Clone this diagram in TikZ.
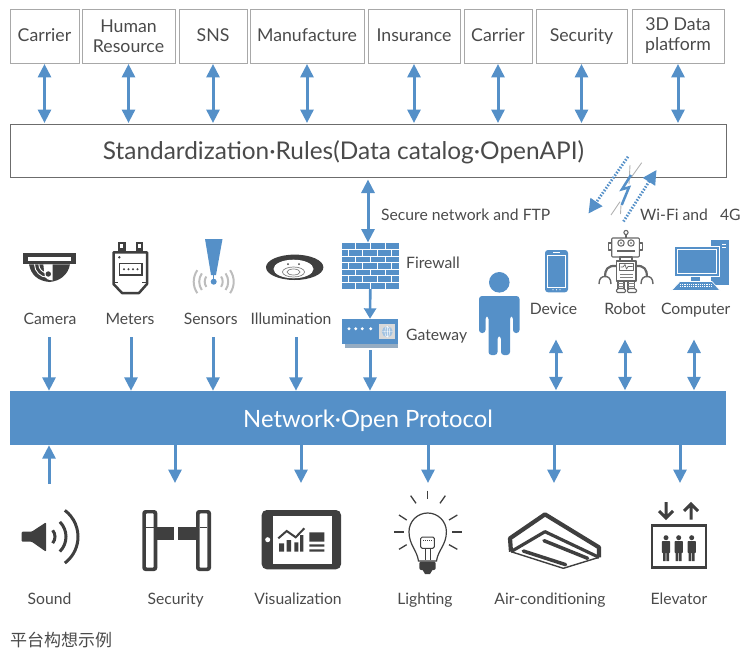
\documentclass[tikz,border=0pt]{standalone}
\usepackage{fontspec}
\setmainfont{Lato}
\newfontfamily\cjkfont{Noto Sans CJK SC}
\usetikzlibrary{arrows.meta,calc}
\definecolor{flow}{HTML}{5590C8}
\definecolor{ink}{HTML}{3F3F3F}
\definecolor{txt}{HTML}{4A4A4A}
\definecolor{edge}{HTML}{A8A8A8}
\definecolor{wave}{HTML}{BDBDBD}
\tikzset{
  topbox/.style={draw=edge,line width=0.9pt,minimum height=54pt,inner sep=0pt,align=center,text=txt,font=\fontsize{17.7}{20}\selectfont},
  oneline/.style={text height=13.2pt,text depth=2.8pt},
  lbl/.style={text=txt,inner sep=0pt,anchor=base,font=\fontsize{15.7}{18}\selectfont},
  lblw/.style={lbl,anchor=base west},
  both/.style={draw=flow,line width=3pt,{Triangle[width=13pt,length=13.5pt]}-{Triangle[width=13pt,length=13.5pt]},shorten >=.5pt,shorten <=.5pt},
  one/.style={draw=flow,line width=3pt,-{Triangle[width=13pt,length=13.5pt]}},
  shortar/.style={draw=flow,line width=2.6pt,-{Triangle[width=12pt,length=10.5pt]}},
  dotar/.style={draw=flow,line width=2.8pt,dash pattern=on 1.5pt off 1.6pt,-{Triangle[width=14pt,length=14pt]}},
  rob/.style={draw=gray!80!black,line width=1.1pt,fill=white,line join=round},
  fb/.style={fill=flow,draw=none},
}
\begin{document}
\begin{tikzpicture}[x=1pt,y=-1pt]
\useasboundingbox (0,0) rectangle (750,656);
% top boxes
\node[topbox,oneline,minimum width=69pt] (t1) at (44.5,36) {Carrier};
\node[topbox,minimum width=93pt] (t2) at (128.5,36) {Human\\Resource};
\node[topbox,oneline,minimum width=68pt] (t3) at (213,36) {SNS};
\node[topbox,oneline,minimum width=114pt] (t4) at (307,36) {Manufacture};
\node[topbox,oneline,minimum width=92pt] (t5) at (414,36) {Insurance};
\node[topbox,oneline,minimum width=68pt] (t6) at (498,36) {Carrier};
\node[topbox,oneline,minimum width=91pt] (t7) at (581.5,36) {Security};
\node[topbox,minimum width=92pt] (t8) at (678,36) {3D Data\\platform};
% main bars
\node[draw=gray!85!black,line width=1pt,minimum width=716pt,minimum height=53pt,inner sep=0pt,text=txt,text height=22pt,text depth=4.5pt,font=\fontsize{24.4}{28}\selectfont] (std) at (368,150.5) {\hspace{-49pt}Standardization·Rules(Data catalog·OpenAPI)};
\node[fill=flow,minimum width=716pt,minimum height=54pt,inner sep=0pt,text=white,text height=23.5pt,text depth=4.5pt,font=\fontsize{23.8}{28}\selectfont] (net) at (368,418) {Network·Open Protocol};
\foreach \n in {t1,t2,t3,t4,t5,t6,t7,t8} \draw[both] (\n.south) -- (\n.south |- std.north);
% firewall
\node[fb,minimum width=57pt,minimum height=46pt,inner sep=0pt] (fw) at (370.3,266) {};
\foreach \y in {249.5,256,262.5,269,275.5,282} \draw[white,line width=.9pt] (341.8,\y) -- (398.8,\y);
\foreach \x in {355.7,370,385} \foreach \y in {243,256,269,282} \draw[white,line width=.9pt] (\x,\y) -- ++(0,6.5);
\foreach \x in {348.3,362.7,377.3,391.7} \foreach \y in {249.5,262.5,275.5} \draw[white,line width=.9pt] (\x,\y) -- ++(0,6.5);
% gateway
\fill[flow!55!gray!70] (345,344) rectangle (398.3,348);
\node[fb,minimum width=56.6pt,minimum height=25pt,inner sep=0pt] (gw) at (370,331.5) {};
\foreach \x in {349,355.7,362.3,370.7} \fill[white] (\x,328.7) circle (1.6);
\fill[gray!30] (379.3,324) rectangle (395,339);
\fill[flow!55!white] (387.3,331.7) circle (5.5);
\draw[white,line width=.4pt] (381.8,331.7) -- (392.8,331.7) (387.3,326.2) -- (387.3,337.2) (387.3,331.7) ellipse (2.5 and 5.5);
% arrows on centre stack
\coordinate (fwtop) at (368,179);
\coordinate (fwin) at (368,243);
\draw[both] (fwtop) -- (fwin);
\draw[shortar] (fw.south) -- (gw.north);
\coordinate (gwout) at (370,350);
\draw[one] (gwout) -- (gwout |- net.north);
% labels
\node[lbl] (lcam) at (50,324) {Camera};
\node[lbl] (lmet) at (130,324) {Meters};
\node[lbl] (lsen) at (210.7,324) {Sensors};
\node[lbl] (lill) at (291,324) {Illumination};
\node[lblw] (lfw) at (406,268) {Firewall};
\node[lblw] (lgw) at (406,340) {Gateway};
\node[lbl] (ldev) at (553.5,314) {Device};
\node[lbl] (lrob) at (625,314) {Robot};
\node[lbl] (lcom) at (695.7,314) {Computer};
\node[lblw] (lsec) at (381,220) {Secure network and FTP};
\node[lblw] (lwifi) at (640,220) {Wi-Fi and\hspace{12pt}4G};
\node[lbl] (bs) at (49.5,604) {Sound};
\node[lbl] (bt) at (175.7,604) {Security};
\node[lbl] (bv) at (298,604) {Visualization};
\node[lbl] (bl) at (425,604) {Lighting};
\node[lbl] (ba) at (550,604) {Air-conditioning};
\node[lbl] (be) at (679,604) {Elevator};
\node[anchor=west,inner sep=0pt,text=txt,font=\cjkfont\fontsize{17}{20}\selectfont] (cap) at (10,640) {平台构想示例};
% sensor row arrows
\foreach \x/\n in {49/a,131/b,213/c,296/d} {\coordinate (s\n) at (\x,337); \draw[one] (s\n) -- (s\n |- net.north);}
\foreach \x/\n in {556/e,625/f,694/g} {\coordinate (s\n) at (\x,339); \draw[both] (s\n) -- (s\n |- net.north);}
% bottom arrows
\coordinate (b1) at (49,484);
\draw[one] (b1) -- (b1 |- net.south);
\foreach \x/\n in {175/2,301/3,428/4,554/5,680/6} {\coordinate (b\n) at (\x,483); \draw[one] (b\n |- net.south) -- (b\n);}
% camera
\fill[ink] (23.3,253.3) rectangle (75.7,264.3);
\fill[white] (27.7,257.3) rectangle (70.5,260.7);
\fill[ink] (29,264.3) .. controls (31,275) and (38,281) .. (49.5,282) .. controls (60,281) and (68,275) .. (70,264.3) -- cycle;
\fill[white] (43.3,264.3) -- (52.7,264.3) -- (52.7,280.5) -- (48,279.5) -- (45,277) -- (44,270) -- cycle;
\draw[white,line width=.9pt] (34.5,264.3) arc[start angle=180,end angle=90,radius=13];
\draw[white,line width=.9pt] (38.8,264.3) arc[start angle=180,end angle=90,radius=8.7];
\fill[ink] (48.3,274) circle (2.7);
% meters
\fill[ink] (117.7,241.7) rectangle (125.7,251);
\fill[white] (120,243.5) rectangle (123.3,248);
\fill[ink] (135.7,241.7) rectangle (143.3,251);
\fill[white] (138,243.5) rectangle (141,248);
\draw[ink,line width=2.5pt,fill=white,line join=round] (113.5,252.3) -- (147,252.3) -- (147,284) -- (139,293) -- (122,293) -- (113.5,284) -- cycle;
\draw[ink,line width=1.3pt] (114,282.5) -- (118,282.5) (146,282.5) -- (142,282.5);
\fill[ink] (119.3,257.3) circle (1.3);
\draw[ink,line width=1.4pt] (119.5,263.5) rectangle (142,275);
\foreach \x in {124,128.5,133,137.5} \fill[ink] (\x,269.2) circle (1.2);
% sensor
\foreach \r in {9,14.5,20} {
  \draw[wave,line width=2pt] (213.7,281.7) ++(145:\r) arc[start angle=145,end angle=215,radius=\r];
  \draw[wave,line width=2pt] (213.7,281.7) ++(-35:\r) arc[start angle=-35,end angle=35,radius=\r];
}
\fill[flow] (205,239) -- (222.5,239) -- (216,275) -- (211,275) -- cycle;
\draw[flow,line width=1.2pt] (213.7,275) -- (213.7,282);
\fill[flow] (213.7,281.7) circle (3);
% illumination
\fill[ink] (294.7,267.3) ellipse (28.7 and 12.7);
\fill[white] (293.5,269) ellipse (20 and 9.3);
\draw[gray,line width=.7pt] (293.5,272) ellipse (11 and 5) (293.5,272) ellipse (6.5 and 3);
\fill[ink] (288,264) circle (1) (299,264) circle (1);
% person
\fill[flow] (499.3,282.3) circle (10.3);
\fill[flow,rounded corners=3pt] (479,333) -- (479,296) -- (519.5,296) -- (519.5,333) -- (513,333) -- (513,316) -- (510,316) -- (510,355) -- (501,355) -- (501,336) -- (497.5,336) -- (497.5,355) -- (488.5,355) -- (488.5,316) -- (485.5,316) -- (485.5,333) -- cycle;
% device
\fill[flow,rounded corners=3pt] (545,250) rectangle (568,292.3);
\draw[white,line width=.7pt] (547.5,255.5) rectangle (565.5,287);
\draw[white,line width=1pt] (553,252.8) -- (560,252.8);
\foreach \x in {553,556.5,560} \fill[white] (\x,289.7) circle (.6);
% computer
\fill[flow] (711,240) rectangle (729,284.5);
\draw[white,line width=.9pt] (722,244) -- (725.5,244) (722,247) -- (725.5,247);
\fill[flow,draw=white,line width=.8pt] (674,246.7) rectangle (719.3,276.7);
\draw[white,line width=.7pt] (677,249.5) rectangle (716.5,273.5);
\fill[flow] (691,276.7) rectangle (700,281);
\fill[flow,draw=white,line width=.6pt] (680,281.5) -- (712,281.5) -- (720,290.5) -- (671.5,290.5) -- cycle;
\foreach \y in {284,286.5} \draw[white,line width=1pt,dash pattern=on 1.2pt off 1pt] (680,\y) -- (712,\y);
% robot
\draw[rob] (626,232.7) -- (626,238.5);
\draw[rob] (626,232.5) circle (2.1);
\draw[rob] (608.5,243) rectangle (612,250) (639,243) rectangle (642.5,250);
\draw[rob,rounded corners=1pt] (611.7,238) rectangle (639.3,257);
\draw[rob] (621,243) circle (3.2) (631,243) circle (3.2);
\fill[gray] (621,243) circle (1.1) (631,243) circle (1.1);
\draw[rob] (617,251) -- (635,251);
\draw[rob] (620,257) rectangle (632,261);
\draw[rob,line width=2.2pt,fill=none] (617,266) .. controls (607,265) and (605,270) .. (605,277);
\draw[rob,line width=2.2pt,fill=none] (635,266) .. controls (645,265) and (647,270) .. (647,277);
\draw[rob,fill=none,line width=1.4pt] (599,284) .. controls (599,278) and (602,276.5) .. (605,276.5) .. controls (608,276.5) and (611,278) .. (611,284);
\draw[rob,fill=none,line width=1.4pt] (641,284) .. controls (641,278) and (644,276.5) .. (647,276.5) .. controls (650,276.5) and (653,278) .. (653,284);
\draw[rob] (616.7,261) rectangle (636,281);
\draw[rob] (619.5,263.5) rectangle (633.5,270.5);
\draw[rob,fill=none,line width=.7pt] (620.5,267) -- (623,267) -- (625,264.5) -- (626.5,269) -- (628,266.5) -- (632.5,266.5);
\draw[gray,line width=.8pt] (620,274) -- (633,274) (620,277.5) -- (633,277.5);
\draw[rob] (618,281) rectangle (624,289);
\draw[rob] (628,281) rectangle (634.5,289);
\draw[gray,line width=.7pt] (618,283.5) -- (624,283.5) (618,286) -- (624,286) (628,283.5) -- (634.5,283.5) (628,286) -- (634.5,286);
\draw[rob,rounded corners=1.5pt] (616,292.5) -- (617,288.5) -- (625,288.5) -- (626,292.5) -- cycle;
\draw[rob,rounded corners=1.5pt] (627,292.5) -- (628,288.5) -- (636,288.5) -- (637,292.5) -- cycle;
% wireless
\coordinate (w1a) at (628,156.7);
\coordinate (w1b) at (588.5,213.5);
\coordinate (w2a) at (623.5,221.5);
\coordinate (w2b) at (656.5,170);
\draw[dotar] (w1a) -- (w1b);
\draw[dotar] (w2a) -- (w2b);
\draw[gray!60,line width=.9pt] (641.7,162.7) -- (631.7,176.7) (630,165) -- (629,184) (620,201.7) -- (611,215) (621,205) -- (620.5,214);
\draw[flow,line width=2.5pt] (631,175) -- (622,189.3) -- (629,187.3) -- (621.7,205);
% sound
\fill[ink,rounded corners=1pt] (21.7,531.7) -- (31.7,531.7) -- (46,522.3) -- (46,551.7) -- (31.7,541.7) -- (21.7,541.7) -- cycle;
\foreach \r/\a in {10/40,21/45,33/53} \draw[ink,line width=3pt] (45,536.7) ++(-\a:\r) arc[start angle=-\a,end angle=\a,radius=\r];
% turnstile
\foreach \x in {142.3,196} {
  \fill[ink,rounded corners=3pt] (\x,510) rectangle ++(15,61);
  \fill[white,rounded corners=1pt] (\x+3.7,513.3) rectangle ++(7.7,54.4);
  \draw[ink,line width=1pt] (\x+3.7,527.7) -- ++(7.7,0);
}
\fill[ink] (157.3,526.7) rectangle (174.3,540);
\fill[ink] (178.3,526.7) rectangle (196,540);
% tablet
\fill[ink,rounded corners=5pt] (261.7,510) rectangle (341,569.3);
\fill[white] (273.3,516) rectangle (331.7,564);
\fill[white] (267.7,539.7) circle (2.5);
\fill[ink] (279,543.3) rectangle (284,551.7) (286.7,540) rectangle (291,551.7) (294.3,542.3) rectangle (298.3,551.7) (300,535) rectangle (303.3,551.7);
\draw[ink,line width=2pt] (278.3,538.3) -- (286.7,531) -- (295.7,537.3) -- (304.3,528.3);
\fill[ink] (309.3,532.3) rectangle (324.3,541.7) (309.3,544.3) rectangle (324.3,546.7) (309.3,549.3) rectangle (324.3,551.7);
% bulb
\draw[ink,line width=1.2pt,fill=white] (418.5,561) .. controls (417,550) and (409,545) .. (409,531.7) arc[start angle=180,end angle=360,radius=18.7] .. controls (446.4,545) and (438,550) .. (436.5,561) -- cycle;
\draw[ink,line width=1pt] (425,560) -- (425,548.5) (430,560) -- (430,548.5);
\draw[ink,line width=1pt,rounded corners=1.5pt] (420.7,548.3) -- (420.7,537) -- (434.3,537) -- (434.3,548.3) -- cycle;
\draw[ink,line width=.9pt,dash pattern=on 1.2pt off .8pt] (423,540) -- (433,540);
\fill[ink,rounded corners=2pt] (419.3,561.5) rectangle (435.7,570);
\fill[ink] (422,569) -- (433,569) -- (430,574) -- (425,574) -- cycle;
\foreach \a/\b/\c/\d in {158/62/158/88,107/77/123/100,195/100/211/77,72/135/95/150,222/150/247/135,58/186/88/186,232/186/260/186,72/238/95/224,222/224/247/238}
  \draw[ink,line width=1.3pt] ({375+\a/3},{470+\b/3}) -- ({375+\c/3},{470+\d/3});
% air conditioner
\begin{scope}[shift={(375,470)},x=0.3333pt,y=-0.3333pt]
\fill[white] (405,205) -- (510,133) -- (672,232) -- (672,262) -- (565,295) -- (408,245) -- cycle;
\draw[ink,line width=1.4pt,line join=round] (408,245) -- (565,295) -- (672,262);
\draw[ink,line width=4.2pt,line join=round] (408,245) -- (405,205) -- (510,133) -- (672,232) -- (672,262);
\draw[ink,line width=3.2pt,line join=round] (408,245) -- (510,185) -- (672,262);
\draw[ink,line width=3.5pt,line cap=round] (507,212) -- (638,265);
\draw[ink,line width=3.5pt,line cap=round] (445,243) -- (572,284);
\end{scope}
% elevator
\draw[ink,line width=2.8pt] (652,525.5) rectangle (706,567.5);
\foreach \x in {666,678.7,691.7} {
  \fill[ink] (\x,537.7) circle (2.5);
  \fill[ink,rounded corners=.8pt] (\x-4.2,541) rectangle (\x+4.2,553);
  \fill[ink] (\x-3,552) rectangle (\x-.4,561) (\x+.4,552) rectangle (\x+3,561);
}
\draw[ink,line width=3pt] (666,502) -- (666,518) (659,511) -- (666,518) -- (673,511);
\draw[ink,line width=3pt] (691,519.5) -- (691,504) (684,511) -- (691,504) -- (698,511);
\end{tikzpicture}
\end{document}
